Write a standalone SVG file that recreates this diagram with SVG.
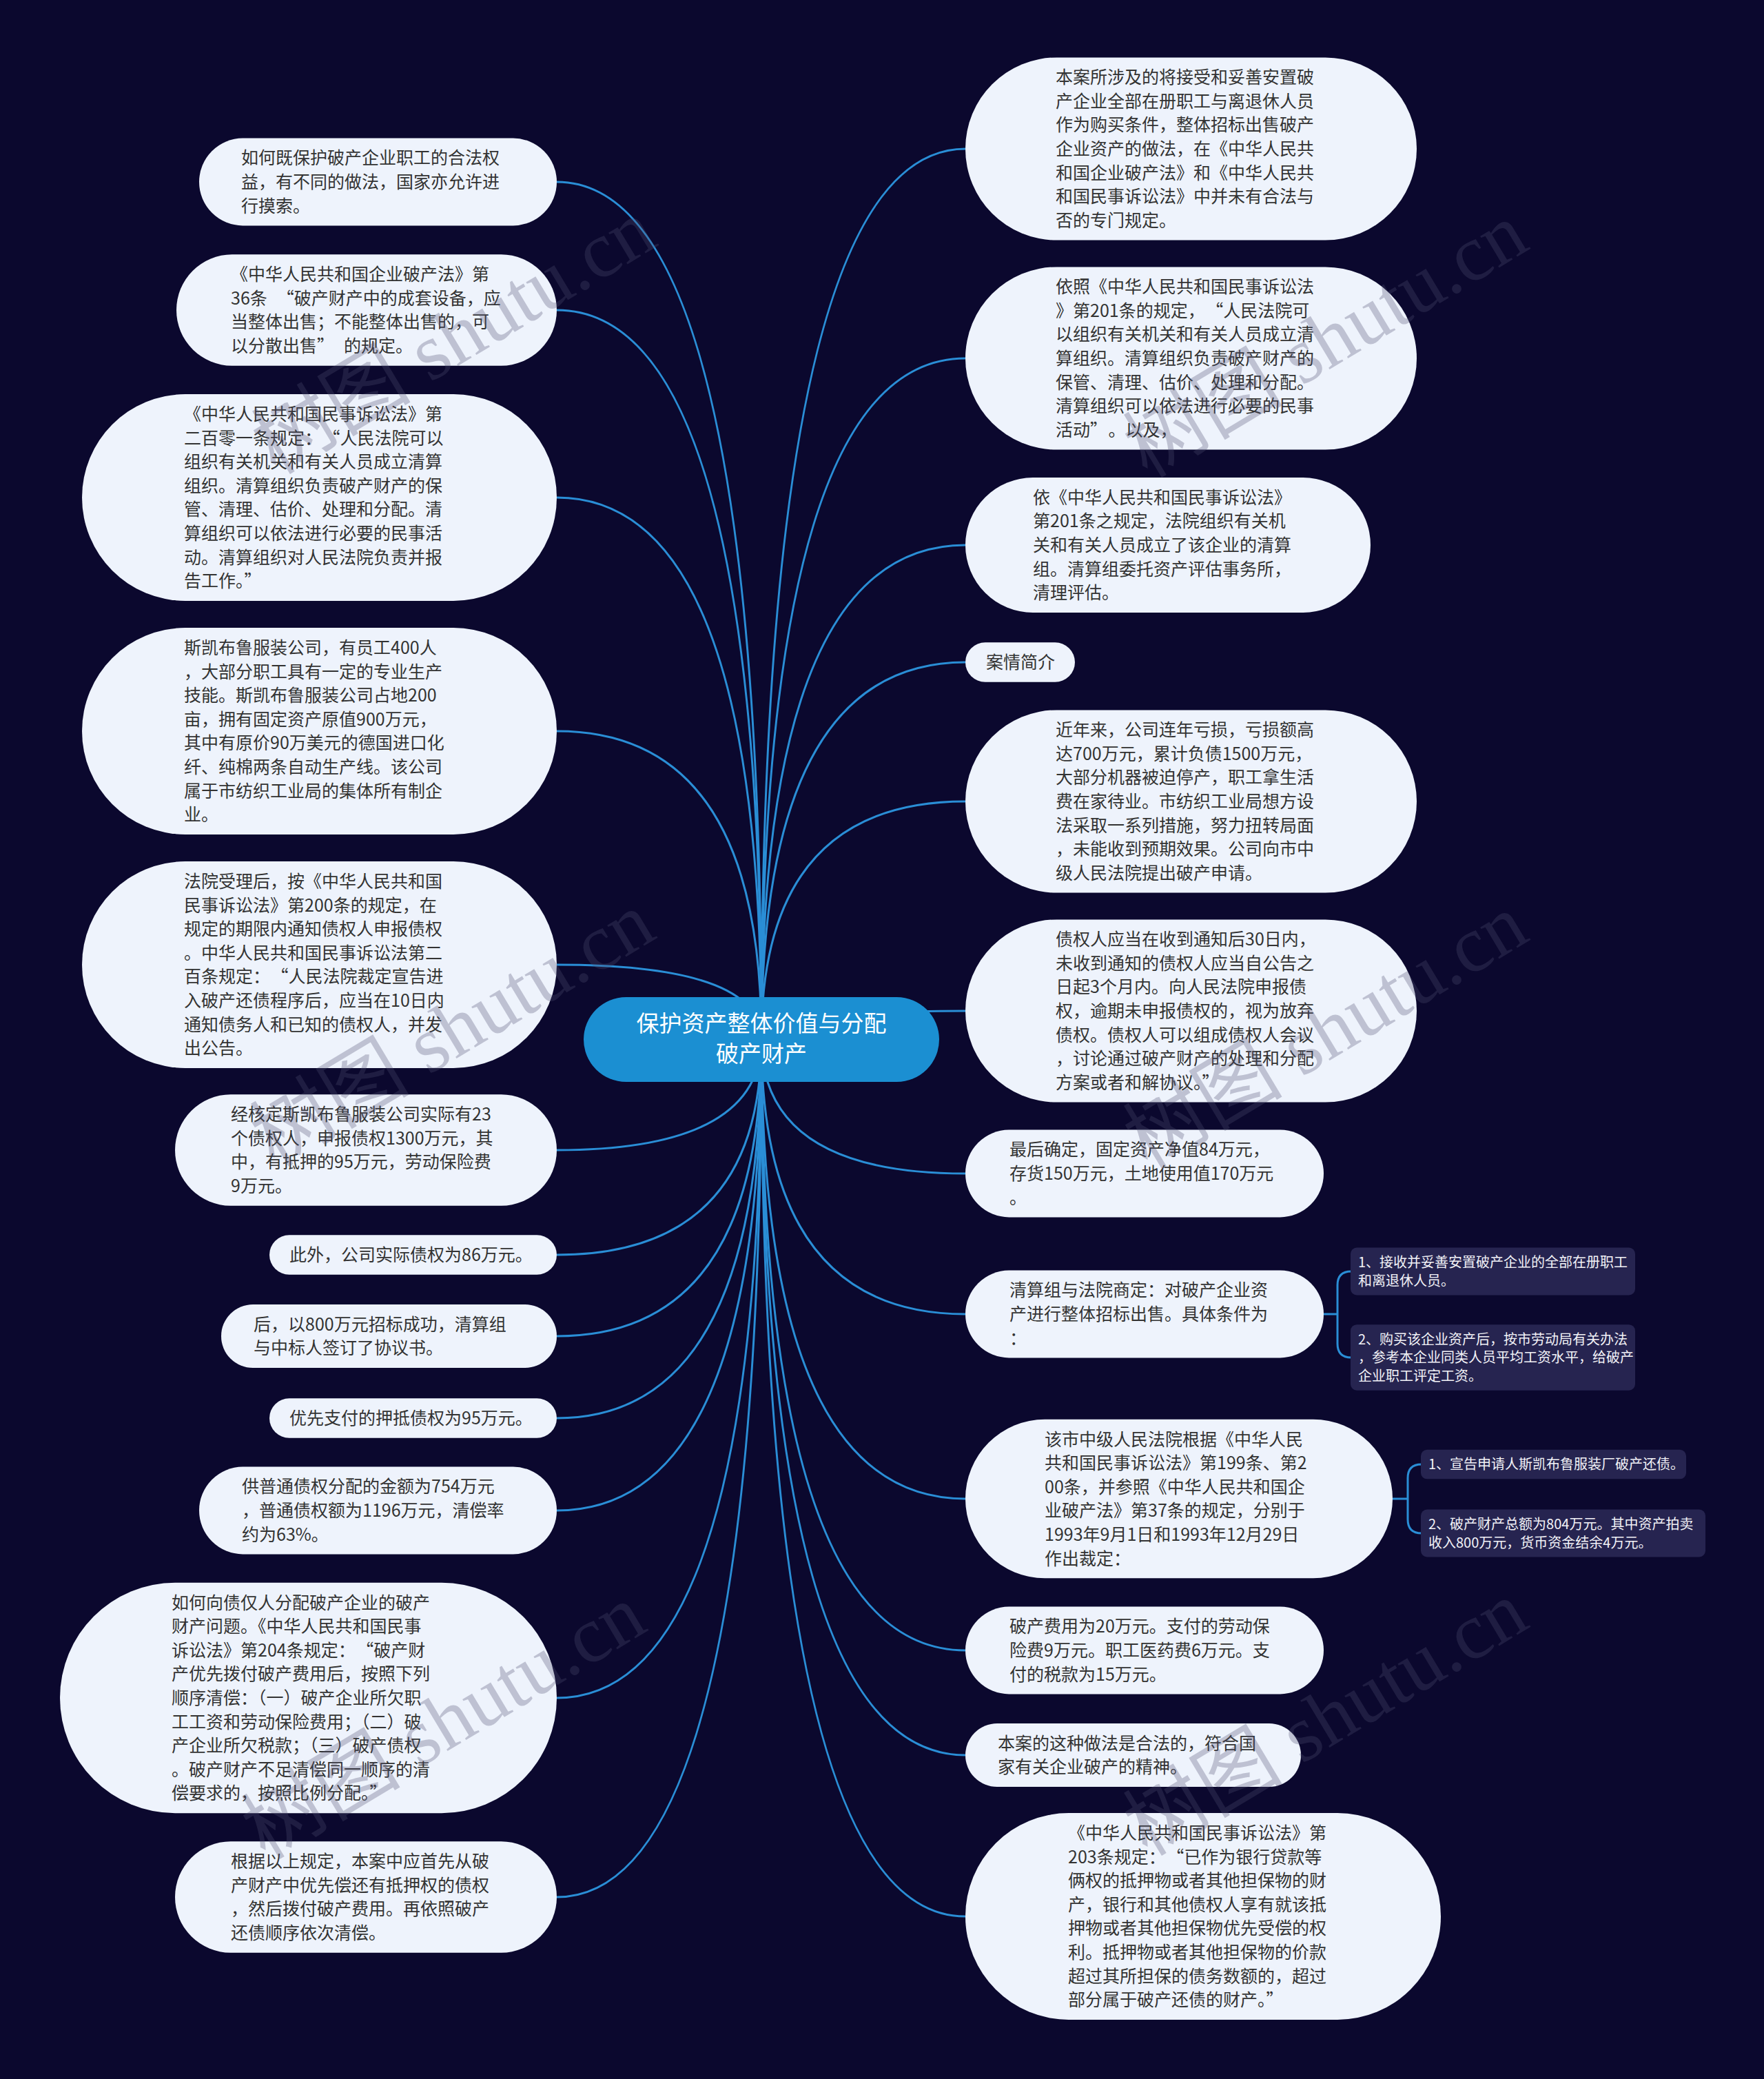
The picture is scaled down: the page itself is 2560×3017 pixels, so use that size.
<svg xmlns="http://www.w3.org/2000/svg" width="2560" height="3017" viewBox="0 0 2560 3017">
<style>
.pill{fill:#eef3fc}
.t{font-family:"Noto Sans CJK SC","Liberation Sans",sans-serif;font-size:25px;fill:#333333}
.edge{fill:none;stroke:#2a8ed6;stroke-width:3}
.sm{fill:#262450}
.st{font-family:"Noto Sans CJK SC","Liberation Sans",sans-serif;font-size:20px;fill:#f2f2f7}
.root{fill:#1b8fd2}
.rt{font-family:"Noto Sans CJK SC","Liberation Sans",sans-serif;font-size:33px;fill:#ffffff;text-anchor:middle}
.wm{font-family:"Liberation Serif","Noto Sans CJK SC",serif;font-size:116px;fill:#505070;fill-opacity:0.3}
</style>
<rect x="0" y="0" width="2560" height="3017" fill="#0b082e"/>
<g id="connectors">
<path class="edge" d="M1105 1508 Q1105 264 808 264"/>
<path class="edge" d="M1105 1508 Q1105 450 808 450"/>
<path class="edge" d="M1105 1508 Q1105 722 808 722"/>
<path class="edge" d="M1105 1508 Q1105 1061 808 1061"/>
<path class="edge" d="M1105 1508 Q1105 1400 808 1400"/>
<path class="edge" d="M1105 1508 Q1105 1669 808 1669"/>
<path class="edge" d="M1105 1508 Q1105 1821 808 1821"/>
<path class="edge" d="M1105 1508 Q1105 1939 808 1939"/>
<path class="edge" d="M1105 1508 Q1105 2058 808 2058"/>
<path class="edge" d="M1105 1508 Q1105 2192 808 2192"/>
<path class="edge" d="M1105 1508 Q1105 2464 808 2464"/>
<path class="edge" d="M1105 1508 Q1105 2753 808 2753"/>
<path class="edge" d="M1105 1508 Q1105 216 1401 216"/>
<path class="edge" d="M1105 1508 Q1105 520 1401 520"/>
<path class="edge" d="M1105 1508 Q1105 791 1401 791"/>
<path class="edge" d="M1105 1508 Q1105 961 1401 961"/>
<path class="edge" d="M1105 1508 Q1105 1163 1401 1163"/>
<path class="edge" d="M1105 1508 Q1105 1467 1401 1467"/>
<path class="edge" d="M1105 1508 Q1105 1703 1401 1703"/>
<path class="edge" d="M1105 1508 Q1105 1907 1401 1907"/>
<path class="edge" d="M1105 1508 Q1105 2175 1401 2175"/>
<path class="edge" d="M1105 1508 Q1105 2395 1401 2395"/>
<path class="edge" d="M1105 1508 Q1105 2547 1401 2547"/>
<path class="edge" d="M1105 1508 Q1105 2781 1401 2781"/>
<path class="edge" d="M1921 1907 H1941 M1961 1845 Q1941 1845 1941 1865 V1950 Q1941 1970 1961 1970"/>
<path class="edge" d="M2021 2175 H2043 M2063 2125 Q2043 2125 2043 2145 V2205 Q2043 2225 2063 2225"/>
</g>
<g id="root">
<rect class="root" x="847" y="1447" width="516" height="123" rx="61.5"/>
<text class="rt" x="1105" y="1497"><tspan x="1105">保护资产整体价值与分配</tspan><tspan x="1105" dy="44">破产财产</tspan></text>
</g>
<g id="L1"><rect class="pill" x="289" y="200.6" width="519" height="126.8" rx="63.4"/>
<text class="t" x="350" y="238.4"><tspan x="350">如何既保护破产企业职工的合法权</tspan><tspan x="350" dy="34.6">益，有不同的做法，国家亦允许进</tspan><tspan x="350" dy="34.6">行摸索。</tspan></text></g>
<g id="L2"><rect class="pill" x="256" y="369.3" width="552" height="161.4" rx="80.7"/>
<text class="t" x="335" y="407.1"><tspan x="335">《中华人民共和国企业破产法》第</tspan><tspan x="335" dy="34.6">36条<tspan dx="14">“</tspan>破产财产中的成套设备，应</tspan><tspan x="335" dy="34.6">当整体出售；不能整体出售的，可</tspan><tspan x="335" dy="34.6">以分散出售”<tspan dx="14">的规定。</tspan></tspan></text></g>
<g id="L3"><rect class="pill" x="119" y="572.1" width="689" height="299.8" rx="149.9"/>
<text class="t" x="267" y="609.9"><tspan x="267">《中华人民共和国民事诉讼法》第</tspan><tspan x="267" dy="34.6">二百零一条规定：<tspan dx="14">“</tspan>人民法院可以</tspan><tspan x="267" dy="34.6">组织有关机关和有关人员成立清算</tspan><tspan x="267" dy="34.6">组织。清算组织负责破产财产的保</tspan><tspan x="267" dy="34.6">管、清理、估价、处理和分配。清</tspan><tspan x="267" dy="34.6">算组织可以依法进行必要的民事活</tspan><tspan x="267" dy="34.6">动。清算组织对人民法院负责并报</tspan><tspan x="267" dy="34.6">告工作。”</tspan></text></g>
<g id="L4"><rect class="pill" x="119" y="911.1" width="689" height="299.8" rx="149.9"/>
<text class="t" x="267" y="948.9"><tspan x="267">斯凯布鲁服装公司，有员工400人</tspan><tspan x="267" dy="34.6">，大部分职工具有一定的专业生产</tspan><tspan x="267" dy="34.6">技能。斯凯布鲁服装公司占地200</tspan><tspan x="267" dy="34.6">亩，拥有固定资产原值900万元，</tspan><tspan x="267" dy="34.6">其中有原价90万美元的德国进口化</tspan><tspan x="267" dy="34.6">纤、纯棉两条自动生产线。该公司</tspan><tspan x="267" dy="34.6">属于市纺织工业局的集体所有制企</tspan><tspan x="267" dy="34.6">业。</tspan></text></g>
<g id="L5"><rect class="pill" x="119" y="1250.1" width="689" height="299.8" rx="149.9"/>
<text class="t" x="267" y="1287.9"><tspan x="267">法院受理后，按《中华人民共和国</tspan><tspan x="267" dy="34.6">民事诉讼法》第200条的规定，在</tspan><tspan x="267" dy="34.6">规定的期限内通知债权人申报债权</tspan><tspan x="267" dy="34.6">。中华人民共和国民事诉讼法第二</tspan><tspan x="267" dy="34.6">百条规定：<tspan dx="14">“</tspan>人民法院裁定宣告进</tspan><tspan x="267" dy="34.6">入破产还债程序后，应当在10日内</tspan><tspan x="267" dy="34.6">通知债务人和已知的债权人，并发</tspan><tspan x="267" dy="34.6">出公告。</tspan></text></g>
<g id="L6"><rect class="pill" x="254" y="1588.3" width="554" height="161.4" rx="80.7"/>
<text class="t" x="335" y="1626.1"><tspan x="335">经核定斯凯布鲁服装公司实际有23</tspan><tspan x="335" dy="34.6">个债权人，申报债权1300万元，其</tspan><tspan x="335" dy="34.6">中，有抵押的95万元，劳动保险费</tspan><tspan x="335" dy="34.6">9万元。</tspan></text></g>
<g id="L7"><rect class="pill" x="391" y="1792.2" width="417" height="57.6" rx="28.8"/>
<text class="t" x="420" y="1830">此外，公司实际债权为86万元。</text></g>
<g id="L8"><rect class="pill" x="321" y="1892.9" width="487" height="92.2" rx="46.1"/>
<text class="t" x="368" y="1930.7"><tspan x="368">后，以800万元招标成功，清算组</tspan><tspan x="368" dy="34.6">与中标人签订了协议书。</tspan></text></g>
<g id="L9"><rect class="pill" x="391" y="2029.2" width="417" height="57.6" rx="28.8"/>
<text class="t" x="420" y="2067">优先支付的押抵债权为95万元。</text></g>
<g id="L10"><rect class="pill" x="289" y="2128.6" width="519" height="126.8" rx="63.4"/>
<text class="t" x="351" y="2166.4"><tspan x="351">供普通债权分配的金额为754万元</tspan><tspan x="351" dy="34.6">，普通债权额为1196万元，清偿率</tspan><tspan x="351" dy="34.6">约为63%。</tspan></text></g>
<g id="L11"><rect class="pill" x="87" y="2296.8" width="721" height="334.4" rx="167.2"/>
<text class="t" x="249" y="2334.6"><tspan x="249">如何向债仅人分配破产企业的破产</tspan><tspan x="249" dy="34.6">财产问题。《中华人民共和国民事</tspan><tspan x="249" dy="34.6">诉讼法》第204条规定：<tspan dx="14">“</tspan>破产财</tspan><tspan x="249" dy="34.6">产优先拨付破产费用后，按照下列</tspan><tspan x="249" dy="34.6">顺序清偿：（一）破产企业所欠职</tspan><tspan x="249" dy="34.6">工工资和劳动保险费用；（二）破</tspan><tspan x="249" dy="34.6">产企业所欠税款；（三）破产债权</tspan><tspan x="249" dy="34.6">。破产财产不足清偿同一顺序的清</tspan><tspan x="249" dy="34.6">偿要求的，按照比例分配。”</tspan></text></g>
<g id="L12"><rect class="pill" x="254" y="2672.3" width="554" height="161.4" rx="80.7"/>
<text class="t" x="335" y="2710.1"><tspan x="335">根据以上规定，本案中应首先从破</tspan><tspan x="335" dy="34.6">产财产中优先偿还有抵押权的债权</tspan><tspan x="335" dy="34.6">，然后拨付破产费用。再依照破产</tspan><tspan x="335" dy="34.6">还债顺序依次清偿。</tspan></text></g>
<g id="R1"><rect class="pill" x="1401" y="83.4" width="655" height="265.2" rx="132.6"/>
<text class="t" x="1532" y="121.2"><tspan x="1532">本案所涉及的将接受和妥善安置破</tspan><tspan x="1532" dy="34.6">产企业全部在册职工与离退休人员</tspan><tspan x="1532" dy="34.6">作为购买条件，整体招标出售破产</tspan><tspan x="1532" dy="34.6">企业资产的做法，在《中华人民共</tspan><tspan x="1532" dy="34.6">和国企业破产法》和《中华人民共</tspan><tspan x="1532" dy="34.6">和国民事诉讼法》中并未有合法与</tspan><tspan x="1532" dy="34.6">否的专门规定。</tspan></text></g>
<g id="R2"><rect class="pill" x="1401" y="387.4" width="655" height="265.2" rx="132.6"/>
<text class="t" x="1532" y="425.2"><tspan x="1532">依照《中华人民共和国民事诉讼法</tspan><tspan x="1532" dy="34.6">》第201条的规定，<tspan dx="14">“</tspan>人民法院可</tspan><tspan x="1532" dy="34.6">以组织有关机关和有关人员成立清</tspan><tspan x="1532" dy="34.6">算组织。清算组织负责破产财产的</tspan><tspan x="1532" dy="34.6">保管、清理、估价、处理和分配。</tspan><tspan x="1532" dy="34.6">清算组织可以依法进行必要的民事</tspan><tspan x="1532" dy="34.6">活动”<tspan dx="14">。以及，</tspan></tspan></text></g>
<g id="R3"><rect class="pill" x="1401" y="693" width="588" height="196" rx="98"/>
<text class="t" x="1499" y="730.8"><tspan x="1499">依《中华人民共和国民事诉讼法》</tspan><tspan x="1499" dy="34.6">第201条之规定，法院组织有关机</tspan><tspan x="1499" dy="34.6">关和有关人员成立了该企业的清算</tspan><tspan x="1499" dy="34.6">组。清算组委托资产评估事务所，</tspan><tspan x="1499" dy="34.6">清理评估。</tspan></text></g>
<g id="R4"><rect class="pill" x="1401" y="932.2" width="159" height="57.6" rx="28.8"/>
<text class="t" x="1431" y="970">案情简介</text></g>
<g id="R5"><rect class="pill" x="1401" y="1030.4" width="655" height="265.2" rx="132.6"/>
<text class="t" x="1532" y="1068.2"><tspan x="1532">近年来，公司连年亏损，亏损额高</tspan><tspan x="1532" dy="34.6">达700万元，累计负债1500万元，</tspan><tspan x="1532" dy="34.6">大部分机器被迫停产，职工拿生活</tspan><tspan x="1532" dy="34.6">费在家待业。市纺织工业局想方设</tspan><tspan x="1532" dy="34.6">法采取一系列措施，努力扭转局面</tspan><tspan x="1532" dy="34.6">，未能收到预期效果。公司向市中</tspan><tspan x="1532" dy="34.6">级人民法院提出破产申请。</tspan></text></g>
<g id="R6"><rect class="pill" x="1401" y="1334.4" width="655" height="265.2" rx="132.6"/>
<text class="t" x="1532" y="1372.2"><tspan x="1532">债权人应当在收到通知后30日内，</tspan><tspan x="1532" dy="34.6">未收到通知的债权人应当自公告之</tspan><tspan x="1532" dy="34.6">日起3个月内。向人民法院申报债</tspan><tspan x="1532" dy="34.6">权，逾期未申报债权的，视为放弃</tspan><tspan x="1532" dy="34.6">债权。债权人可以组成债权人会议</tspan><tspan x="1532" dy="34.6">，讨论通过破产财产的处理和分配</tspan><tspan x="1532" dy="34.6">方案或者和解协议。”</tspan></text></g>
<g id="R7"><rect class="pill" x="1401" y="1639.6" width="520" height="126.8" rx="63.4"/>
<text class="t" x="1465" y="1677.4"><tspan x="1465">最后确定，固定资产净值84万元，</tspan><tspan x="1465" dy="34.6">存货150万元，土地使用值170万元</tspan><tspan x="1465" dy="34.6">。</tspan></text></g>
<g id="R8"><rect class="pill" x="1401" y="1843.6" width="520" height="126.8" rx="63.4"/>
<text class="t" x="1465" y="1881.4"><tspan x="1465">清算组与法院商定：对破产企业资</tspan><tspan x="1465" dy="34.6">产进行整体招标出售。具体条件为</tspan><tspan x="1465" dy="34.6">：</tspan></text></g>
<g id="R9"><rect class="pill" x="1401" y="2059.7" width="620" height="230.6" rx="115.3"/>
<text class="t" x="1516" y="2097.5"><tspan x="1516">该市中级人民法院根据《中华人民</tspan><tspan x="1516" dy="34.6">共和国民事诉讼法》第199条、第2</tspan><tspan x="1516" dy="34.6">00条，并参照《中华人民共和国企</tspan><tspan x="1516" dy="34.6">业破产法》第37条的规定，分别于</tspan><tspan x="1516" dy="34.6">1993年9月1日和1993年12月29日</tspan><tspan x="1516" dy="34.6">作出裁定：</tspan></text></g>
<g id="R10"><rect class="pill" x="1401" y="2331.6" width="520" height="126.8" rx="63.4"/>
<text class="t" x="1465" y="2369.4"><tspan x="1465">破产费用为20万元。支付的劳动保</tspan><tspan x="1465" dy="34.6">险费9万元。职工医药费6万元。支</tspan><tspan x="1465" dy="34.6">付的税款为15万元。</tspan></text></g>
<g id="R11"><rect class="pill" x="1401" y="2500.9" width="487" height="92.2" rx="46.1"/>
<text class="t" x="1448" y="2538.7"><tspan x="1448">本案的这种做法是合法的，符合国</tspan><tspan x="1448" dy="34.6">家有关企业破产的精神。</tspan></text></g>
<g id="R12"><rect class="pill" x="1401" y="2631.1" width="690" height="299.8" rx="149.9"/>
<text class="t" x="1550" y="2668.9"><tspan x="1550">《中华人民共和国民事诉讼法》第</tspan><tspan x="1550" dy="34.6">203条规定：<tspan dx="14">“</tspan>已作为银行贷款等</tspan><tspan x="1550" dy="34.6">俩权的抵押物或者其他担保物的财</tspan><tspan x="1550" dy="34.6">产，银行和其他债权人享有就该抵</tspan><tspan x="1550" dy="34.6">押物或者其他担保物优先受偿的权</tspan><tspan x="1550" dy="34.6">利。抵押物或者其他担保物的价款</tspan><tspan x="1550" dy="34.6">超过其所担保的债务数额的，超过</tspan><tspan x="1550" dy="34.6">部分属于破产还债的财产。”</tspan></text></g>
<g id="S1"><rect class="sm" x="1960" y="1810.5" width="413" height="69" rx="9"/>
<text class="st" x="1971" y="1839"><tspan x="1971">1、接收并妥善安置破产企业的全部在册职工</tspan><tspan x="1971" dy="26.5">和离退休人员。</tspan></text></g>
<g id="S2"><rect class="sm" x="1960" y="1922.2" width="413" height="95.5" rx="9"/>
<text class="st" x="1971" y="1950.7"><tspan x="1971">2、购买该企业资产后，按市劳动局有关办法</tspan><tspan x="1971" dy="26.5">，参考本企业同类人员平均工资水平，给破产</tspan><tspan x="1971" dy="26.5">企业职工评定工资。</tspan></text></g>
<g id="S3"><rect class="sm" x="2062" y="2103.8" width="385" height="42.5" rx="9"/>
<text class="st" x="2073" y="2132.2">1、宣告申请人斯凯布鲁服装厂破产还债。</text></g>
<g id="S4"><rect class="sm" x="2062" y="2190.5" width="413" height="69" rx="9"/>
<text class="st" x="2073" y="2219"><tspan x="2073">2、破产财产总额为804万元。其中资产拍卖</tspan><tspan x="2073" dy="26.5">收入800万元，货币资金结余4万元。</tspan></text></g>
<g id="watermark">
<text class="wm" x="400" y="690" transform="rotate(-31 400 690)">树图 shutu.cn</text>
<text class="wm" x="1665" y="695" transform="rotate(-31 1665 695)">树图 shutu.cn</text>
<text class="wm" x="398" y="1695" transform="rotate(-31 398 1695)">树图 shutu.cn</text>
<text class="wm" x="1665" y="1698" transform="rotate(-31 1665 1698)">树图 shutu.cn</text>
<text class="wm" x="385" y="2700" transform="rotate(-31 385 2700)">树图 shutu.cn</text>
<text class="wm" x="1665" y="2695" transform="rotate(-31 1665 2695)">树图 shutu.cn</text>
</g>
</svg>
